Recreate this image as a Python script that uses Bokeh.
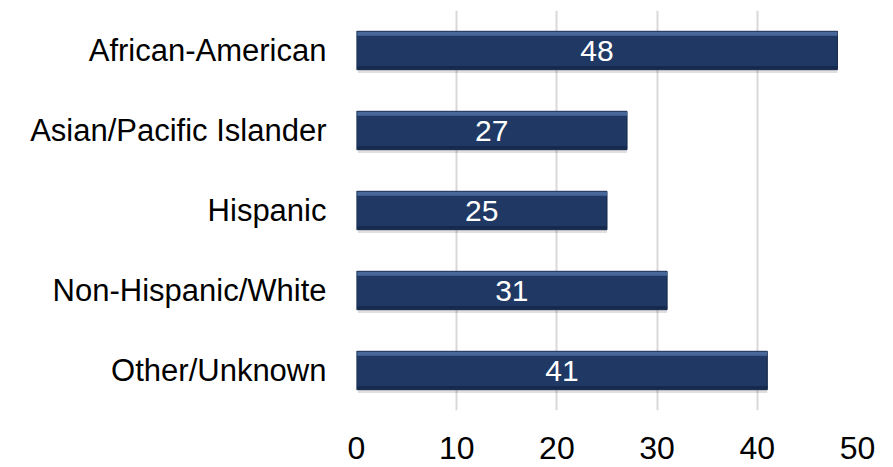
from bokeh.plotting import figure
from bokeh.models import ColumnDataSource, FactorRange, Range1d, FixedTicker
from bokeh.transform import dodge
from bokeh.core.properties import value
from bokeh.embed import file_html
from bokeh.resources import INLINE

categories = ["African-American", "Asian/Pacific Islander", "Hispanic", "Non-Hispanic/White", "Other/Unknown"]
counts = [48, 27, 25, 31, 41]
x_ticks = [0, 10, 20, 30, 40, 50]

src = ColumnDataSource(dict(
    cat=categories,
    val=counts,
    mid=[v / 2 for v in counts],
    lab=[str(v) for v in counts],
))

p = figure(
    width=893, height=467,
    y_range=FactorRange(factors=list(reversed(categories))),
    x_range=Range1d(0, 50),
    output_backend="svg", toolbar_location=None,
    min_border_left=356, min_border_right=36, min_border_top=10, min_border_bottom=57,
)
p.outline_line_color = None
p.background_fill_color = "white"
p.border_fill_color = "white"

BH = 0.48
# soft shadow
p.hbar(y=dodge("cat", -0.04, range=p.y_range), left=0.15, right="val",
       height=BH, source=src, fill_color="#000000", fill_alpha=0.12, line_color=None)
# base bar
p.hbar(y="cat", left=0, right="val", height=BH, source=src,
       fill_color="#1f3864", line_color="#17294a", line_width=1)
# top highlight (bevel)
p.hbar(y=dodge("cat", BH / 2 - 0.03, range=p.y_range), left=0.08, right="val", height=0.05, source=src,
       fill_color="#4c6da0", fill_alpha=0.9, line_color=None)
# bottom darker edge
p.hbar(y=dodge("cat", -BH / 2 + 0.025, range=p.y_range), left=0.08, right="val", height=0.04, source=src,
       fill_color="#152a4d", line_color=None)

p.text(x="mid", y="cat", text="lab", source=src, text_color="white",
       text_font=value("Liberation Sans"), text_font_size="30px",
       text_align="center", text_baseline="middle")

p.xaxis.ticker = FixedTicker(ticks=x_ticks)
p.xgrid.ticker = FixedTicker(ticks=x_ticks)
p.xgrid.grid_line_color = "#d9d9d9"
p.xgrid.grid_line_width = 2
p.ygrid.grid_line_color = None

for ax in (p.xaxis, p.yaxis):
    ax.axis_line_color = None
    ax.major_tick_line_color = None
    ax.minor_tick_line_color = None
    ax.major_label_text_font = "Liberation Sans"
    ax.major_label_text_color = "#000000"
p.yaxis.major_label_text_font_size = "31px"
p.xaxis.major_label_text_font_size = "32px"
p.yaxis.major_label_standoff = 24
p.xaxis.major_label_standoff = 20

open("out.html", "w").write(file_html(p, INLINE))
